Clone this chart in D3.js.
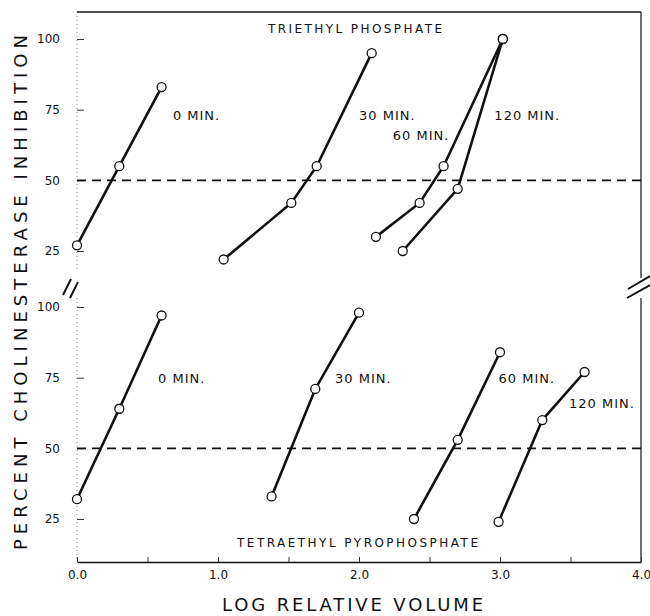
<!DOCTYPE html>
<html>
<head>
<meta charset="utf-8">
<script src="https://cdn.jsdelivr.net/npm/d3@7"></script>
<style>
  body { margin: 0; background: #fff; }
  text { font-family: "DejaVu Sans", sans-serif; fill: #111; }
</style>
</head>
<body>
<script>
// data
const xTicks = [0, 1, 2, 3, 4];
const xTickLabels = ["0.0", "1.0", "2.0", "3.0", "4.0"];
const xMinor = [0.5, 1.5, 2.5, 3.5];
const yTicks = [25, 50, 75, 100];
const minLabels = ["0 MIN.", "30 MIN.", "60 MIN.", "120 MIN."];

// triethyl phosphate (upper panel)
const tp0 = [[0.0, 27], [0.3, 55], [0.6, 83]];
const tp30 = [[1.04, 22], [1.52, 42], [1.70, 55], [2.09, 95]];
const tp60 = [[2.12, 30], [2.43, 42], [2.60, 55], [3.02, 100]];
const tp120 = [[2.31, 25], [2.70, 47], [3.02, 100]];

// tetraethyl pyrophosphate (lower panel)
const tepp0 = [[0.0, 32], [0.3, 64], [0.6, 97]];
const tepp30 = [[1.38, 33], [1.69, 71], [2.0, 98]];
const tepp60 = [[2.39, 25], [2.70, 53], [3.0, 84]];
const tepp120 = [[2.99, 24], [3.30, 60], [3.60, 77]];

// label anchors in data units
const tpLabelAt = [[0.68, 73], [2.0, 73], [2.24, 66], [2.96, 73]];
const teppLabelAt = [[0.575, 75], [1.83, 75], [2.99, 75], [3.49, 66]];

const width = 650, height = 616;
const svg = d3.select("body").append("svg")
  .attr("width", width).attr("height", height);

const x = d3.scaleLinear().domain([0, 4]).range([77, 641]);
const yTop = d3.scaleLinear().domain([25, 100]).range([251, 39]);
const yBot = d3.scaleLinear().domain([25, 100]).range([519, 307]);
const frameTop = 12, frameBottom = 562;

// frame: top line, right axis with break, dotted left axis
svg.append("line").attr("x1", x(0)).attr("x2", x(4)).attr("y1", frameTop).attr("y2", frameTop)
  .attr("stroke", "#111").attr("stroke-width", 1.4);
svg.append("line").attr("x1", x(4)).attr("x2", x(4)).attr("y1", frameTop).attr("y2", 278)
  .attr("stroke", "#111").attr("stroke-width", 1.2);
svg.append("line").attr("x1", x(4)).attr("x2", x(4)).attr("y1", 298).attr("y2", frameBottom)
  .attr("stroke", "#111").attr("stroke-width", 1.2);
svg.append("line").attr("x1", x(0)).attr("x2", x(0)).attr("y1", frameTop).attr("y2", 270)
  .attr("stroke", "#777").attr("stroke-width", 0.9).attr("stroke-dasharray", "1,3");
svg.append("line").attr("x1", x(0)).attr("x2", x(0)).attr("y1", 298).attr("y2", frameBottom)
  .attr("stroke", "#777").attr("stroke-width", 0.9).attr("stroke-dasharray", "1,3");

// break marks
const brk = svg.append("g").attr("stroke", "#111").attr("stroke-width", 2);
brk.append("line").attr("x1", 63).attr("y1", 295).attr("x2", 71).attr("y2", 279);
brk.append("line").attr("x1", 70).attr("y1", 298).attr("x2", 78).attr("y2", 282);
brk.append("line").attr("x1", 628).attr("y1", 289).attr("x2", 650).attr("y2", 276);
brk.append("line").attr("x1", 627).attr("y1", 298).attr("x2", 650).attr("y2", 285);

// bottom axis
const xAxis = svg.append("g").attr("transform", `translate(0,${frameBottom})`)
  .call(d3.axisBottom(x).tickValues(xTicks.concat(xMinor)).tickSizeInner(-5).tickSizeOuter(0)
    .tickFormat(d => { const i = xTicks.indexOf(d); return i < 0 ? "" : xTickLabels[i]; }));
xAxis.select(".domain").attr("stroke", "#111").attr("stroke-width", 1.4);
xAxis.selectAll(".tick line").attr("stroke", "#333");
xAxis.selectAll(".tick text").attr("y", 8).attr("font-size", 12).attr("fill", "#222");

// left tick marks for both panels
[yTop, yBot].forEach(ys => {
  const g = svg.append("g").attr("transform", `translate(${x(0)},0)`)
    .call(d3.axisLeft(ys).tickValues(yTicks).tickSizeInner(-7).tickSizeOuter(0).tickPadding(17));
  g.select(".domain").remove();
  g.selectAll(".tick line").attr("stroke", "#333");
  g.selectAll(".tick text").attr("font-size", 12).attr("fill", "#222");
});

// 50% dashed reference lines
[yTop, yBot].forEach(ys => {
  svg.append("line").attr("x1", x(0)).attr("x2", x(4)).attr("y1", ys(50)).attr("y2", ys(50))
    .attr("stroke", "#111").attr("stroke-width", 1.8).attr("stroke-dasharray", "9,6");
});

function drawSeries(data, ys) {
  const line = d3.line().x(d => x(d[0])).y(d => ys(d[1]));
  svg.append("path").datum(data).attr("d", line)
    .attr("fill", "none").attr("stroke", "#111").attr("stroke-width", 2.6);
  svg.append("g").selectAll("circle").data(data).join("circle")
    .attr("cx", d => x(d[0])).attr("cy", d => ys(d[1])).attr("r", 4.5)
    .attr("fill", "#fff").attr("stroke", "#111").attr("stroke-width", 1.3);
}
[tp0, tp30, tp60, tp120].forEach(s => drawSeries(s, yTop));
[tepp0, tepp30, tepp60, tepp120].forEach(s => drawSeries(s, yBot));

function drawLabels(anchors, ys) {
  svg.append("g").selectAll("text").data(anchors).join("text")
    .attr("x", d => x(d[0])).attr("y", d => ys(d[1]) + 5)
    .attr("font-size", 13).attr("letter-spacing", 1)
    .text((d, i) => minLabels[i]);
}
drawLabels(tpLabelAt, yTop);
drawLabels(teppLabelAt, yBot);

// panel titles
svg.append("text").attr("x", 268).attr("y", 33).attr("font-size", 12)
  .attr("textLength", 174).attr("lengthAdjust", "spacing").text("TRIETHYL PHOSPHATE");
svg.append("text").attr("x", 237).attr("y", 547).attr("font-size", 12)
  .attr("textLength", 241).attr("lengthAdjust", "spacing").text("TETRAETHYL PYROPHOSPHATE");

// axis titles
svg.append("text").attr("x", 222).attr("y", 611).attr("font-size", 18)
  .attr("textLength", 261).attr("lengthAdjust", "spacing").text("LOG RELATIVE VOLUME");
svg.append("text").attr("transform", "translate(27,550) rotate(-90)").attr("font-size", 18)
  .attr("textLength", 515).attr("lengthAdjust", "spacing").text("PERCENT CHOLINESTERASE INHIBITION");
</script>
</body>
</html>
